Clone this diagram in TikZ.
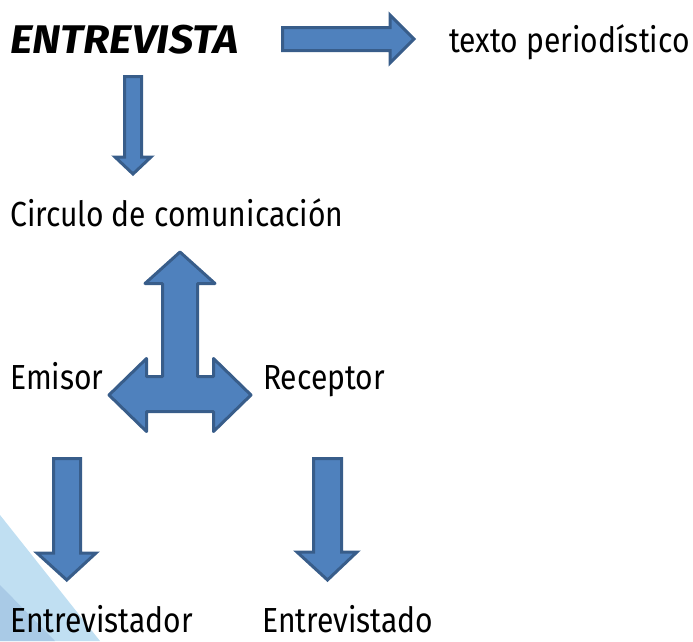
\documentclass[tikz,border=0pt]{standalone}
\usepackage{fontspec}
\setmainfont[FakeStretch=0.864]{Fira Sans}
\newfontfamily\entfont[FakeStretch=1.08]{Fira Sans}
\definecolor{arrowfill}{HTML}{4F81BD}
\definecolor{arrowline}{HTML}{385D8A}
\definecolor{bgA}{HTML}{C0DFF2}
\definecolor{bgB}{HTML}{A9CAE6}
\begin{document}
\begin{tikzpicture}[x=1pt,y=-1pt,
  blk/.style={fill=arrowfill, draw=arrowline, line width=3pt},
  lbl/.style={anchor=base west, inner sep=0pt, font=\fontsize{34.8}{40}\selectfont}]
\useasboundingbox (0,0) rectangle (693,641);
\fill[bgA] (0,515) -- (100,641) -- (0,641) -- cycle;
\fill[bgB] (0,585) -- (55,641) -- (0,641) -- cycle;
% texts
\node[lbl, font=\entfont\fontsize{40}{44}\selectfont\bfseries\itshape] (ent) at (10,53) {ENTREVISTA};
\node[lbl] (tp) at (449,52) {texto periodístico};
\node[lbl] (circ) at (10,226) {Circulo de comunicación};
\node[lbl] (emi) at (10,389) {Emisor};
\node[lbl] (rec) at (263,389) {Receptor};
\node[lbl] (edor) at (10,632) {Entrevistador};
\node[lbl] (edo) at (262,632) {Entrevistado};
% block arrows
\draw[blk] (282.5,27.5) -- (390,27.5) -- (390,15) -- (414,39) -- (390,63) -- (390,50.5) -- (282.5,50.5) -- cycle;
\draw[blk] (124.5,76.5) -- (141.5,76.5) -- (141.5,157) -- (151,157) -- (133,174) -- (115,157) -- (124.5,157) -- cycle;
\draw[blk] (53.5,458.5) -- (80.5,458.5) -- (80.5,553) -- (96,553) -- (66.75,580) -- (37,553) -- (53.5,553) -- cycle;
\draw[blk] (313.5,458.5) -- (341.5,458.5) -- (341.5,552) -- (357,552) -- (327.5,580) -- (297,552) -- (313.5,552) -- cycle;
\draw[blk, line join=round] (180,252) -- (215,283.5) -- (197.5,283.5) -- (197.5,376.5) -- (213.5,376.5) -- (213.5,358.5) -- (251,395) -- (213.5,431.5) -- (213.5,411.5) -- (146.5,411.5) -- (146.5,431.5) -- (109,395) -- (146.5,358.5) -- (146.5,376.5) -- (162.5,376.5) -- (162.5,283.5) -- (145,283.5) -- cycle;
\end{tikzpicture}
\end{document}
